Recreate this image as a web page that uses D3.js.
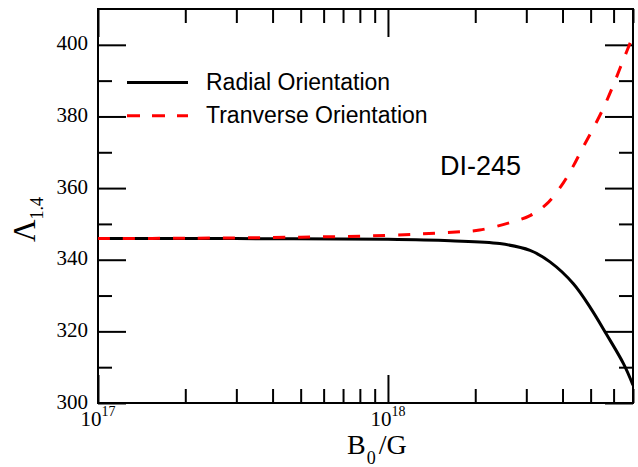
<!DOCTYPE html>
<html><head><meta charset="utf-8">
<script src="https://cdn.jsdelivr.net/npm/d3@7/dist/d3.min.js"></script>
<style>body{margin:0;background:#fff}svg{display:block}</style>
</head><body>
<svg id="c" width="638" height="467"></svg>
<script>
// Data (B0 in Gauss, Lambda_1.4)
const radialB = [1e17, 3e17, 1e18, 1.64e18, 2.43e18, 3.09e18, 3.62e18, 4.36e18, 5.0e18, 5.67e18, 6.49e18, 7e18];
const radialL = [345.9, 345.9, 345.7, 345.3, 344.5, 342.6, 339.4, 333.3, 326.5, 319.2, 311.0, 305.0];
const transB = [1e17, 2e17, 5e17, 1e18, 1.6e18, 2.07e18, 2.7e18, 3.09e18, 3.52e18, 4.02e18, 4.36e18, 4.70e18, 5.09e18, 5.51e18, 5.97e18, 6.46e18, 7e18];
const transL = [345.9, 346.0, 346.3, 346.8, 347.6, 348.3, 350.6, 352.3, 355.5, 361.4, 366.2, 371.3, 376.5, 382.0, 388.5, 395.5, 402.5];
const xMajor = [1e17, 1e18];
const xMinor = [2e17,3e17,4e17,5e17,6e17,7e17,8e17,9e17,2e18,3e18,4e18,5e18,6e18,7e18];
const yMajor = [300, 320, 340, 360, 380, 400];
const yMinor = [310, 330, 350, 370, 390];
const xExp = ["17", "18"];
const seriesNames = ["Radial Orientation", "Tranverse Orientation"];
const annotation = "DI-245";

const svg = d3.select("#c");
const L = 98, R = 633, T = 9, B = 403;
const x = d3.scaleLog().domain([1e17, 7e18]).range([L, R]);
const y = d3.scaleLinear().domain([300, 410]).range([B, T]);
const serif = "'Liberation Serif', 'Times New Roman', serif";
const sans = "'Liberation Sans', Arial, sans-serif";

function styleAxis(g){
  g.select(".domain").remove();
  g.selectAll(".tick line").attr("stroke","#000").attr("stroke-width",2);
  g.selectAll(".tick text").remove();
}
const MJ = 28, MN = 14;
// bottom
svg.append("g").attr("transform",`translate(0,${B})`).call(d3.axisBottom(x).tickValues(xMajor).tickSize(-MJ).tickFormat("")).call(styleAxis);
svg.append("g").attr("transform",`translate(0,${B})`).call(d3.axisBottom(x).tickValues(xMinor).tickSize(-MN).tickFormat("")).call(styleAxis);
// top
svg.append("g").attr("transform",`translate(0,${T})`).call(d3.axisTop(x).tickValues(xMajor).tickSize(-MJ).tickFormat("")).call(styleAxis);
svg.append("g").attr("transform",`translate(0,${T})`).call(d3.axisTop(x).tickValues(xMinor).tickSize(-MN).tickFormat("")).call(styleAxis);
// left
svg.append("g").attr("transform",`translate(${L},0)`).call(d3.axisLeft(y).tickValues(yMajor).tickSize(-MJ).tickFormat("")).call(styleAxis);
svg.append("g").attr("transform",`translate(${L},0)`).call(d3.axisLeft(y).tickValues(yMinor).tickSize(-MN).tickFormat("")).call(styleAxis);
// right
svg.append("g").attr("transform",`translate(${R},0)`).call(d3.axisRight(y).tickValues(yMajor).tickSize(-MJ).tickFormat("")).call(styleAxis);
svg.append("g").attr("transform",`translate(${R},0)`).call(d3.axisRight(y).tickValues(yMinor).tickSize(-MN).tickFormat("")).call(styleAxis);

// frame
svg.append("rect").attr("x",L).attr("y",T).attr("width",R-L).attr("height",B-T)
  .attr("fill","none").attr("stroke","#000").attr("stroke-width",2);

// y tick labels
svg.append("g").selectAll("text").data(yMajor).join("text")
  .attr("x", L-10).attr("y", d=>y(d)+5.5).attr("text-anchor","end")
  .attr("font-family",serif).attr("font-size",21).text(d=>d);

// x tick labels
xMajor.forEach((v,i)=>{
  const t = svg.append("text").attr("x", x(v)).attr("y", 426).attr("text-anchor","middle")
    .attr("font-family",serif).attr("font-size",21);
  t.append("tspan").text("10");
  t.append("tspan").attr("font-size",14).attr("dy",-10).text(xExp[i]);
});

// x axis title
const xt = svg.append("text").attr("x",347).attr("y",454).attr("font-family",serif).attr("font-size",28);
xt.append("tspan").text("B");
xt.append("tspan").attr("font-size",18).attr("dy",10).attr("dx",1).text("0");
xt.append("tspan").attr("dy",-10).attr("dx",3).text("/G");

// y axis title
const yt = svg.append("text").attr("transform","translate(35,242) rotate(-90)").attr("font-family",serif).attr("font-size",31);
yt.append("tspan").text("Λ");
yt.append("tspan").attr("font-size",18).attr("dy",8).text("1.4");

// lines
const line = d3.line().x(d=>x(d[0])).y(d=>y(d[1])).curve(d3.curveCatmullRom.alpha(0.5));
svg.append("clipPath").attr("id","clp").append("rect").attr("x",L).attr("y",T).attr("width",R-L).attr("height",B-T);
svg.append("path").attr("clip-path","url(#clp)").datum(radialB.map((b,i)=>[b,radialL[i]])).attr("d",line)
  .attr("fill","none").attr("stroke","#000").attr("stroke-width",3);
svg.append("path").attr("clip-path","url(#clp)").datum(transB.map((b,i)=>[b,transL[i]])).attr("d",line)
  .attr("fill","none").attr("stroke","#ff0000").attr("stroke-width",3).attr("stroke-dasharray","12,13");

// legend
const lg = [{y:82.5, c:"#000", dash:null},{y:115.7, c:"#ff0000", dash:"13,12"}];
lg.forEach((d,i)=>{
  svg.append("line").attr("x1",127).attr("x2",188).attr("y1",d.y).attr("y2",d.y)
    .attr("stroke",d.c).attr("stroke-width",3).attr("stroke-dasharray",d.dash);
  svg.append("text").attr("x",206).attr("y",d.y+7.5).attr("font-family",sans).attr("font-size",23).text(seriesNames[i]);
});

// annotation
svg.append("text").attr("x",440).attr("y",175).attr("font-family",sans).attr("font-size",27).text(annotation);
</script>
</body></html>
